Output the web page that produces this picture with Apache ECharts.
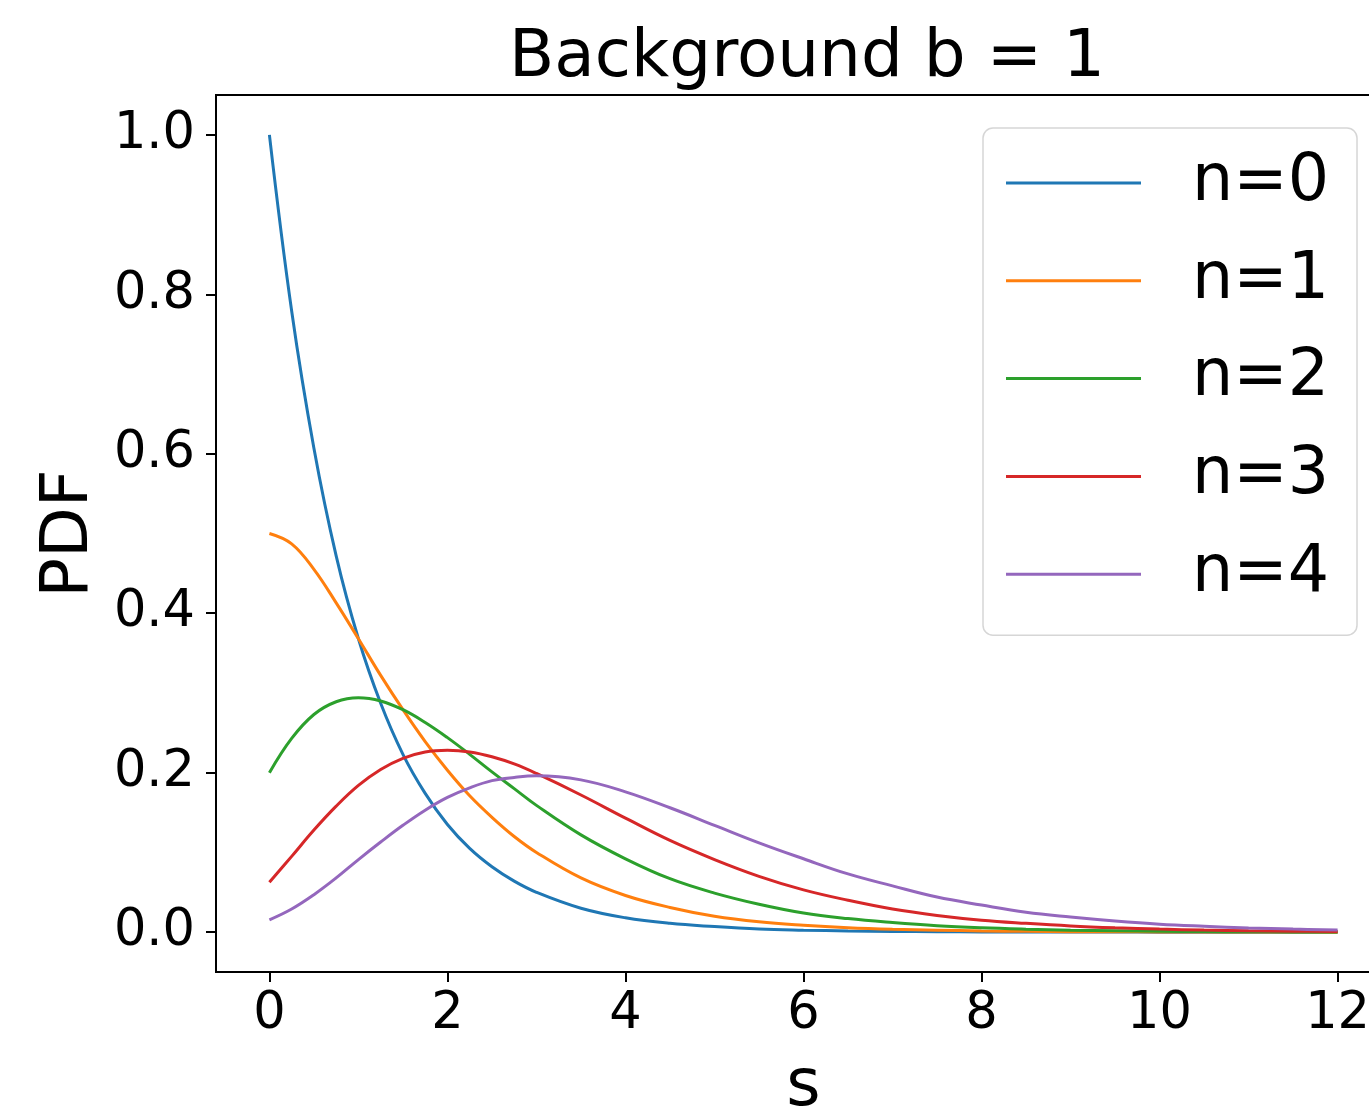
<!DOCTYPE html>
<html>
<head>
<meta charset="utf-8">
<script src="https://cdn.jsdelivr.net/npm/echarts@6/dist/echarts.min.js"></script>
<style>
  html, body { margin: 0; padding: 0; background: #fff; }
  #chart { width: 1369px; height: 1108px; }
</style>
</head>
<body>
<div id="chart"></div>
<script>
// s values sampled along the x axis
const sVals = [0, 0.25, 0.5, 0.75, 1, 1.25, 1.5, 1.75, 2, 2.25, 2.5, 2.75, 3, 3.5, 4, 4.5, 5, 5.5, 6, 6.5, 7, 7.5, 8, 8.5, 9, 9.5, 10, 10.5, 11, 11.5, 12];

// PDF for each n
const n0 = [1.0, 0.779, 0.607, 0.472, 0.368, 0.287, 0.223, 0.174, 0.135, 0.105, 0.082, 0.064, 0.050, 0.030, 0.018, 0.011, 0.007, 0.004, 0.0025, 0.0015, 0.0009, 0.0006, 0.0003, 0.0002, 0.0001, 0.0001, 0, 0, 0, 0, 0];
const n1 = [0.5, 0.487, 0.455, 0.413, 0.368, 0.322, 0.279, 0.239, 0.203, 0.171, 0.144, 0.120, 0.100, 0.068, 0.046, 0.031, 0.020, 0.013, 0.0087, 0.0056, 0.0036, 0.0024, 0.0015, 0.001, 0.0006, 0.0004, 0.0003, 0.0002, 0.0001, 0.0001, 0];
const n2 = [0.2, 0.243, 0.273, 0.289, 0.294, 0.290, 0.279, 0.263, 0.244, 0.223, 0.201, 0.180, 0.159, 0.122, 0.092, 0.067, 0.049, 0.035, 0.024, 0.017, 0.012, 0.008, 0.0054, 0.0037, 0.0025, 0.0017, 0.0011, 0.0007, 0.0005, 0.0003, 0.0002];
const n3 = [0.0625, 0.095, 0.128, 0.158, 0.184, 0.204, 0.218, 0.226, 0.228, 0.226, 0.220, 0.211, 0.199, 0.172, 0.143, 0.115, 0.091, 0.070, 0.053, 0.040, 0.029, 0.021, 0.015, 0.011, 0.0077, 0.0054, 0.0038, 0.0026, 0.0018, 0.0012, 0.0008];
const n4 = [0.0154, 0.029, 0.047, 0.068, 0.091, 0.113, 0.134, 0.153, 0.169, 0.181, 0.190, 0.194, 0.196, 0.191, 0.176, 0.156, 0.134, 0.112, 0.092, 0.073, 0.058, 0.044, 0.034, 0.025, 0.019, 0.014, 0.010, 0.0074, 0.0053, 0.0038, 0.0027];

const seriesNames = ['n=0', 'n=1', 'n=2', 'n=3', 'n=4'];
const seriesData = [n0, n1, n2, n3, n4];
const colors = ['#1f77b4', '#ff7f0e', '#2ca02c', '#d62728', '#9467bd'];

const xTicks = [0, 2, 4, 6, 8, 10, 12];
const yTicks = [0, 0.2, 0.4, 0.6, 0.8, 1.0];

const FONT = 'DejaVu Sans';

const chart = echarts.init(document.getElementById('chart'));

const series = seriesNames.map((name, k) => ({
  name: name,
  type: 'line',
  data: sVals.map((s, i) => [s, seriesData[k][i]]),
  showSymbol: false,
  smooth: 0.4,
  lineStyle: { width: 3, color: colors[k] },
  itemStyle: { color: colors[k] }
}));

chart.setOption({
  animation: false,
  backgroundColor: '#fff',
  title: {
    text: 'Background b = 1',
    left: 802,
    top: 21,
    textAlign: 'center',
    textStyle: { fontFamily: FONT, fontSize: 66, fontWeight: 'normal', color: '#000' }
  },
  legend: {
    orient: 'vertical',
    left: 983,
    top: 128,
    padding: [15, 28, 21, 23],
    itemWidth: 135,
    itemHeight: 3,
    itemGap: 17.8,
    icon: 'rect',
    backgroundColor: 'rgba(255,255,255,0.8)',
    borderColor: '#d6d6d6',
    borderWidth: 1.5,
    borderRadius: 10,
    textStyle: {
      fontFamily: FONT,
      fontSize: 65,
      lineHeight: 80,
      color: '#000',
      padding: [0, 0, 0, 46]
    },
    data: seriesNames
  },
  grid: {
    left: 216,
    top: 95,
    width: 1175,
    height: 877,
    outerBoundsMode: 'none',
    containLabel: false,
    show: true,
    borderColor: '#000',
    borderWidth: 2,
    backgroundColor: 'transparent'
  },
  xAxis: {
    type: 'value',
    min: -0.6,
    max: 12.6,
    name: 's',
    nameLocation: 'middle',
    nameGap: 83,
    nameTextStyle: { fontFamily: FONT, fontSize: 66, color: '#000' },
    axisLine: { show: false, onZero: false },
    splitLine: { show: false },
    axisTick: {
      show: true,
      length: 10,
      customValues: xTicks,
      lineStyle: { color: '#000', width: 2 }
    },
    axisLabel: {
      customValues: xTicks,
      fontFamily: FONT,
      fontSize: 51,
      color: '#000',
      margin: 17,
      formatter: v => String(v)
    }
  },
  yAxis: {
    type: 'value',
    min: -0.05,
    max: 1.05,
    name: 'PDF',
    nameLocation: 'middle',
    nameRotate: 90,
    nameGap: 108,
    nameTextStyle: { fontFamily: FONT, fontSize: 66, color: '#000' },
    axisLine: { show: false, onZero: false },
    splitLine: { show: false },
    axisTick: {
      show: true,
      length: 10,
      customValues: yTicks,
      lineStyle: { color: '#000', width: 2 }
    },
    axisLabel: {
      customValues: yTicks,
      fontFamily: FONT,
      fontSize: 51,
      color: '#000',
      margin: 21,
      formatter: v => v.toFixed(1)
    }
  },
  series: series
});
</script>
</body>
</html>
